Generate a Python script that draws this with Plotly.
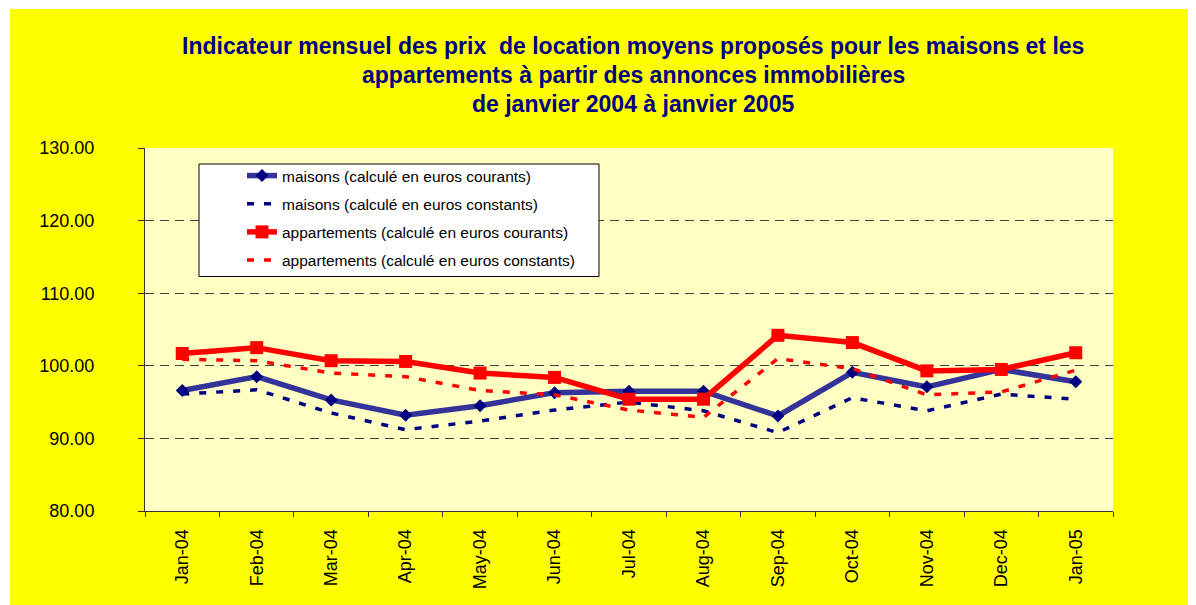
import plotly.graph_objects as go

months = ["Jan-04", "Feb-04", "Mar-04", "Apr-04", "May-04", "Jun-04", "Jul-04",
          "Aug-04", "Sep-04", "Oct-04", "Nov-04", "Dec-04", "Jan-05"]
maisons_courants = [96.6, 98.5, 95.3, 93.2, 94.5, 96.3, 96.5, 96.5, 93.1, 99.1, 97.1, 99.5, 97.8]
maisons_constants = [96.1, 96.7, 93.5, 91.2, 92.4, 93.9, 95.0, 93.8, 90.8, 95.6, 93.8, 96.1, 95.4]
appart_courants = [101.7, 102.5, 100.7, 100.6, 99.0, 98.4, 95.4, 95.4, 104.2, 103.2, 99.3, 99.5, 101.8]
appart_constants = [100.9, 100.7, 99.0, 98.5, 96.6, 96.0, 93.9, 92.9, 101.0, 99.6, 96.0, 96.4, 99.4]

series_names = ["maisons (calculé en euros courants)",
                "maisons (calculé en euros constants)",
                "appartements (calculé en euros courants)",
                "appartements (calculé en euros constants)"]
title_lines = ["Indicateur mensuel des prix  de location moyens proposés pour les maisons et les",
               "appartements à partir des annonces immobilières",
               "de janvier 2004 à janvier 2005"]
y_ticks = [80, 90, 100, 110, 120, 130]

# page body has an 8px margin: the figure starts at (8, 8) of the window
OFF = 8
WIN_W, WIN_H = 1196, 605
W, H = WIN_W - OFF, WIN_H - OFF
# plot area in window pixels: x 145..1113, y 148..511
L, T = 145 - OFF, 148 - OFF
R, B = W - (1113 - OFF), H - (511 - OFF)
PW, PH = W - L - R, H - T - B


def pxx(x):
    """window pixel x -> paper coordinate"""
    return (x - OFF - L) / PW


def pxy(y):
    """window pixel y -> paper coordinate"""
    return (H - B - (y - OFF)) / PH


FONT = "Arial, 'Liberation Sans', sans-serif"
NAVY = "#000080"

fig = go.Figure()
fig.add_trace(go.Scatter(x=months, y=maisons_courants, name=series_names[0], legendgroup="a",
                         mode="lines+markers",
                         line=dict(color="#333399", width=5.5),
                         marker=dict(symbol="diamond", size=10, color=NAVY,
                                     line=dict(color=NAVY, width=0))))
fig.add_trace(go.Scatter(x=months, y=maisons_constants, name=series_names[1], legendgroup="b",
                         mode="lines",
                         line=dict(color=NAVY, width=3.5, dash="7px,10px")))
fig.add_trace(go.Scatter(x=months, y=appart_courants, name=series_names[2], legendgroup="c",
                         mode="lines+markers",
                         line=dict(color="#FF0000", width=5.5),
                         marker=dict(symbol="square", size=13, color="#FF0000",
                                     line=dict(color="#FF0000", width=0))))
fig.add_trace(go.Scatter(x=months, y=appart_constants, name=series_names[3], legendgroup="d",
                         mode="lines",
                         line=dict(color="#FF0000", width=3.5, dash="7px,10px")))

shapes = [
    dict(type="rect", xref="paper", yref="paper", layer="below",
         x0=pxx(10), x1=pxx(WIN_W + 10), y0=pxy(WIN_H + 10), y1=pxy(9),
         fillcolor="#FFFF00", line=dict(width=0)),
    dict(type="rect", xref="paper", yref="paper", layer="below",
         x0=0, x1=1, y0=0, y1=1,
         fillcolor="#FFFFC4", line=dict(width=0)),
    dict(type="rect", xref="paper", yref="paper", layer="above",
         x0=pxx(199), x1=pxx(599), y0=pxy(276.5), y1=pxy(164),
         fillcolor="white", line=dict(color="black", width=1)),
]

annotations = []
for line, yc in zip(title_lines, [46, 75, 104]):
    annotations.append(dict(text=line, xref="paper", yref="paper",
                            x=pxx(633), y=pxy(yc), xanchor="center", yanchor="middle",
                            showarrow=False,
                            font=dict(family=FONT, size=23, color=NAVY, weight="bold")))

fig.update_layout(
    width=W, height=H,
    margin=dict(l=L, r=R, t=T, b=B, pad=0),
    paper_bgcolor="white",
    plot_bgcolor="rgba(0,0,0,0)",
    shapes=shapes,
    annotations=annotations,
    showlegend=True,
    legend=dict(x=pxx(242), y=pxy(159), xanchor="left", yanchor="top",
                bgcolor="rgba(0,0,0,0)", borderwidth=0, tracegroupgap=5,
                font=dict(family=FONT, size=15.5, color="black")),
    xaxis=dict(
        type="category", range=[-0.5, 12.5], tickson="boundaries",
        ticks="outside", ticklen=5, tickcolor="#333333", tickwidth=1,
        showline=True, linecolor="#333333", linewidth=1,
        showgrid=False, tickangle=-90, ticklabelstandoff=10,
        tickfont=dict(family=FONT, size=18, color="black"),
        automargin=False, fixedrange=True,
    ),
    yaxis=dict(
        range=[80, 130], tickvals=y_ticks, tickformat=".2f",
        ticks="outside", ticklen=6, tickcolor="#333333", tickwidth=1,
        showline=True, linecolor="#333333", linewidth=1,
        showgrid=True, gridcolor="#404040", gridwidth=1, griddash="9px,6px",
        zeroline=False, ticklabelstandoff=40,
        tickfont=dict(family=FONT, size=18, color="black"),
        automargin=False, fixedrange=True,
    ),
)

fig.write_html("out.html")
